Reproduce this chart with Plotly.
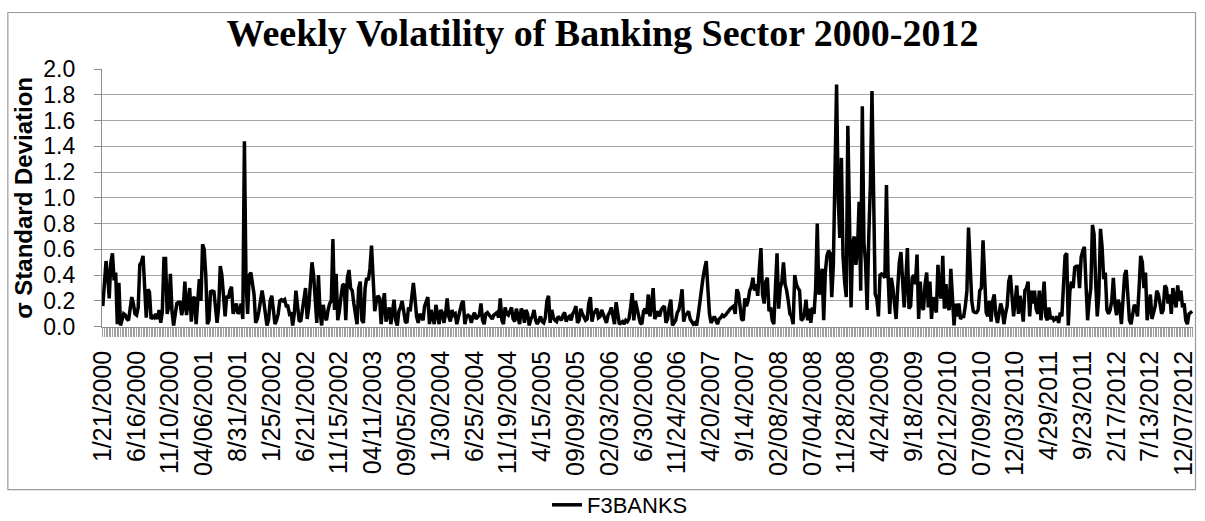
import plotly.graph_objects as go

# Weekly volatility (standard deviation) of the banking sector index, F3BANKS
tick_labels = [
    "1/21/2000", "6/16/2000", "11/10/2000", "04/06/2001", "8/31/2001",
    "1/25/2002", "6/21/2002", "11/15/2002", "04/11/2003", "09/05/2003",
    "1/30/2004", "6/25/2004", "11/19/2004", "4/15/2005", "09/09/2005",
    "02/03/2006", "6/30/2006", "11/24/2006", "4/20/2007", "9/14/2007",
    "02/08/2008", "07/04/2008", "11/28/2008", "4/24/2009", "9/18/2009",
    "02/12/2010", "07/09/2010", "12/03/2010", "4/29/2011", "9/23/2011",
    "2/17/2012", "7/13/2012", "12/07/2012",
]

vol_2000_2001 = [
    0.16, 0.35, 0.51, 0.40, 0.22, 0.50, 0.57, 0.36, 0.42, 0.02,
    0.34, 0.01, 0.06, 0.10, 0.09, 0.06, 0.05, 0.15, 0.23, 0.18,
    0.10, 0.09, 0.15, 0.48, 0.50, 0.55, 0.30, 0.07, 0.29, 0.27,
    0.06, 0.08, 0.07, 0.10, 0.06, 0.13, 0.03, 0.12, 0.53, 0.53,
    0.10, 0.16, 0.41, 0.12, 0.01, 0.08, 0.18, 0.19, 0.19, 0.09,
    0.15, 0.35, 0.09, 0.19, 0.30, 0.04, 0.22, 0.23, 0.02, 0.20,
    0.37, 0.20, 0.64, 0.60, 0.40, 0.02, 0.05, 0.28, 0.27, 0.28,
    0.12, 0.03, 0.15, 0.47, 0.40, 0.25, 0.08, 0.24, 0.22,
]
vol_2001_2003 = [
    0.28, 0.31, 0.10, 0.15, 0.18, 0.10, 0.12, 0.18, 0.06, 1.44,
    0.35, 0.10, 0.40, 0.42, 0.35, 0.25, 0.03, 0.06, 0.12, 0.20,
    0.28, 0.20, 0.08, 0.01, 0.05, 0.20, 0.24, 0.15, 0.02, 0.05,
    0.10, 0.20, 0.21, 0.20, 0.21, 0.16, 0.16, 0.10, 0.11, 0.01,
    0.10, 0.28, 0.15, 0.05, 0.04, 0.12, 0.18, 0.30, 0.06, 0.15,
    0.33, 0.50, 0.40, 0.15, 0.03, 0.40, 0.12, 0.01, 0.17, 0.08,
    0.05, 0.13, 0.18, 0.20, 0.68, 0.13, 0.41, 0.05, 0.12, 0.23,
    0.32, 0.33, 0.05, 0.38, 0.44, 0.30, 0.28, 0.18, 0.10, 0.02,
    0.30, 0.35, 0.05, 0.03,
]
vol_2003_2004 = [
    0.30, 0.38, 0.36, 0.45, 0.63, 0.30, 0.12, 0.20, 0.24, 0.22,
    0.02, 0.18, 0.26, 0.04, 0.10, 0.15, 0.02, 0.14, 0.21, 0.05,
    0.01, 0.12, 0.15, 0.20, 0.10, 0.04, 0.03, 0.15, 0.12, 0.24,
    0.34, 0.22, 0.08, 0.03, 0.10, 0.08, 0.05, 0.16, 0.20, 0.23,
    0.02, 0.13, 0.07, 0.02, 0.17, 0.10, 0.02, 0.13, 0.11, 0.03,
    0.10, 0.22, 0.08, 0.04, 0.13, 0.09, 0.10, 0.02, 0.08, 0.12,
    0.18, 0.20, 0.02, 0.08, 0.09, 0.08, 0.03, 0.08, 0.11, 0.06,
    0.08, 0.09, 0.18, 0.05, 0.02, 0.10, 0.11, 0.09, 0.08, 0.06,
    0.09, 0.10, 0.11, 0.07,
]
vol_2004_2006 = [
    0.22, 0.05, 0.02, 0.15, 0.10, 0.09, 0.12, 0.15, 0.06, 0.04,
    0.14, 0.08, 0.02, 0.14, 0.12, 0.03, 0.13, 0.10, 0.01, 0.06,
    0.08, 0.13, 0.05, 0.02, 0.06, 0.08, 0.04, 0.03, 0.07, 0.20,
    0.24, 0.03, 0.13, 0.07, 0.05, 0.04, 0.08, 0.06, 0.05, 0.09,
    0.11, 0.04, 0.07, 0.08, 0.05, 0.10, 0.12, 0.16, 0.03, 0.05,
    0.14, 0.10, 0.08, 0.05, 0.06, 0.18, 0.23, 0.04, 0.10, 0.12,
    0.14, 0.07, 0.08, 0.13, 0.09, 0.06, 0.03, 0.09, 0.11, 0.15,
    0.08, 0.02, 0.19, 0.12, 0.02, 0.03, 0.04, 0.02, 0.05, 0.04,
    0.06, 0.15, 0.26,
]
vol_2006_2007 = [
    0.05, 0.20, 0.14, 0.07, 0.03, 0.02, 0.12, 0.14, 0.10, 0.25,
    0.08, 0.16, 0.30, 0.06, 0.10, 0.12, 0.08, 0.13, 0.15, 0.16,
    0.03, 0.06, 0.15, 0.21, 0.01, 0.03, 0.05, 0.11, 0.13, 0.20,
    0.29, 0.04, 0.09, 0.10, 0.12, 0.06, 0.04, 0.02, 0.03, 0.01,
    0.09, 0.20, 0.32, 0.38, 0.45, 0.51, 0.30, 0.10, 0.03, 0.06,
    0.08, 0.05, 0.02, 0.06, 0.07, 0.09, 0.08, 0.09, 0.11, 0.13,
    0.14, 0.15, 0.16, 0.10, 0.29, 0.26, 0.15, 0.06, 0.05, 0.22,
    0.16, 0.20, 0.28, 0.31, 0.38, 0.28, 0.33, 0.24, 0.45, 0.61,
    0.25, 0.18, 0.35, 0.38,
]
vol_2007_2009 = [
    0.12, 0.15, 0.05, 0.02, 0.30, 0.57, 0.14, 0.30, 0.35, 0.50,
    0.33, 0.28, 0.20, 0.10, 0.08, 0.02, 0.40, 0.33, 0.30, 0.28,
    0.05, 0.06, 0.10, 0.21, 0.05, 0.14, 0.03, 0.15, 0.10, 0.30,
    0.80, 0.25, 0.28, 0.45, 0.05, 0.42, 0.55, 0.59, 0.57, 0.23,
    0.48, 1.05, 1.88, 1.00, 0.69, 1.31, 0.55, 0.35, 0.23, 1.56,
    0.80, 0.15, 0.65, 0.70, 0.48, 0.60, 0.97, 0.28, 1.71, 0.65,
    0.50, 0.13, 0.70, 1.10, 1.83, 0.75, 0.25, 0.22, 0.08, 0.40,
    0.41, 0.40, 0.38, 1.10, 0.40, 0.10, 0.38, 0.30, 0.18, 0.06,
    0.30, 0.50, 0.58, 0.40,
]
vol_2009_2011 = [
    0.15, 0.35, 0.61, 0.14, 0.16, 0.38, 0.40, 0.33, 0.56, 0.06,
    0.35, 0.16, 0.13, 0.33, 0.42, 0.15, 0.35, 0.06, 0.23, 0.16,
    0.11, 0.48, 0.25, 0.22, 0.55, 0.14, 0.33, 0.16, 0.13, 0.45,
    0.16, 0.01, 0.18, 0.08, 0.18, 0.06, 0.08, 0.08, 0.16, 0.28,
    0.77, 0.52, 0.20, 0.12, 0.11, 0.11, 0.13, 0.28, 0.30, 0.67,
    0.40, 0.11, 0.08, 0.20, 0.04, 0.20, 0.25, 0.09, 0.03, 0.10,
    0.18, 0.13, 0.02, 0.10, 0.16, 0.35, 0.40, 0.24, 0.08, 0.20,
    0.32, 0.10, 0.24, 0.16, 0.04, 0.28, 0.30, 0.35, 0.08, 0.28,
    0.18, 0.28, 0.14,
]
vol_2011_2012 = [
    0.10, 0.28, 0.05, 0.20, 0.35, 0.08, 0.05, 0.15, 0.06, 0.08,
    0.05, 0.06, 0.08, 0.03, 0.11, 0.08, 0.28, 0.55, 0.57, 0.01,
    0.28, 0.35, 0.30, 0.46, 0.47, 0.47, 0.30, 0.54, 0.59, 0.62,
    0.33, 0.05, 0.20, 0.30, 0.79, 0.72, 0.35, 0.08, 0.25, 0.76,
    0.62, 0.37, 0.42, 0.13, 0.10, 0.13, 0.20, 0.38, 0.17, 0.09,
    0.21, 0.16, 0.02, 0.25, 0.40, 0.44, 0.20, 0.05, 0.02, 0.12,
    0.17, 0.15, 0.08, 0.30, 0.55, 0.50, 0.30, 0.42, 0.05, 0.15,
    0.25, 0.06, 0.10, 0.16, 0.28, 0.25, 0.18, 0.10, 0.13, 0.32,
    0.30,
]
vol_2012_end = [
    0.18, 0.25, 0.10, 0.30, 0.22, 0.15, 0.32, 0.20, 0.28, 0.15,
    0.18, 0.05, 0.02, 0.10, 0.11, 0.12,
]

volatility = (vol_2000_2001 + vol_2001_2003 + vol_2003_2004 + vol_2004_2006
              + vol_2006_2007 + vol_2007_2009 + vol_2009_2011 + vol_2011_2012
              + vol_2012_end)
weeks = list(range(len(volatility)))

# A tick mark on every week, a date label on every 21st week
LABEL_EVERY = 21
week_ticktext = [
    tick_labels[w // LABEL_EVERY] if w % LABEL_EVERY == 0 and w // LABEL_EVERY < len(tick_labels) else ""
    for w in weeks
]

W, H = 1205, 521
L, R, T, B = 102, 8, 69, 176
plot_w = W - L - R
plot_h = H - T - B

SANS = "Liberation Sans, Arial, sans-serif"
AXIS_GRAY = "#8c8c8c"
GRID_GRAY = "#a6a6a6"

fig = go.Figure(
    go.Scatter(
        x=weeks, y=volatility, mode="lines", name="F3BANKS",
        line=dict(color="black", width=3.5),
    )
)

# Outer chart frame, given in pixels and converted to paper coordinates
def px_x(px):
    return (px - L) / plot_w

def px_y(py):
    return (H - B - py) / plot_h

fig.add_shape(
    type="rect", xref="paper", yref="paper",
    x0=px_x(7.5), x1=px_x(1199.5), y0=px_y(519.5), y1=px_y(8.5),
    line=dict(color="#9a9a9a", width=1.2), fillcolor="rgba(0,0,0,0)",
    layer="below",
)

fig.update_layout(
    width=W, height=H,
    margin=dict(l=L, r=R, t=T, b=B),
    paper_bgcolor="white", plot_bgcolor="white",
    title=dict(
        text="<b>Weekly Volatility of Banking Sector 2000-2012</b>",
        font=dict(family="Liberation Serif, Times New Roman, serif", size=38, color="black"),
        x=0.5, xanchor="center", xref="container",
        y=1 - 33 / H, yanchor="middle", yref="container",
    ),
    showlegend=True,
    legend=dict(
        orientation="h", x=620 / W, xanchor="center", xref="container",
        y=1 - 505 / H, yanchor="middle", yref="container",
        font=dict(family=SANS, size=22, color="black"),
        bgcolor="rgba(0,0,0,0)",
    ),
    xaxis=dict(
        range=[-0.5, len(volatility) - 0.5],
        tickmode="array", tickvals=weeks, ticktext=week_ticktext,
        tickangle=-90,
        tickfont=dict(family=SANS, size=25, color="black"),
        showline=True, linecolor=AXIS_GRAY, linewidth=1.3,
        ticks="outside", ticklen=9, tickcolor="#a0a0a0", tickwidth=1,
        ticklabelstandoff=4,
        showgrid=False, zeroline=False,
    ),
    yaxis=dict(
        range=[0, 2.0], tickmode="linear", tick0=0, dtick=0.2,
        tickformat=".1f",
        tickfont=dict(family=SANS, size=23, color="black"),
        showline=True, linecolor=AXIS_GRAY, linewidth=1.3,
        ticks="outside", ticklen=7, tickcolor=AXIS_GRAY,
        ticklabelstandoff=14,
        showgrid=True, gridcolor=GRID_GRAY, gridwidth=1.3,
        zeroline=False,
        title=dict(
            text="<b>σ Standard Deviation</b>",
            font=dict(family=SANS, size=24, color="black"),
            standoff=3,
        ),
    ),
)

fig.write_html("out.html")
